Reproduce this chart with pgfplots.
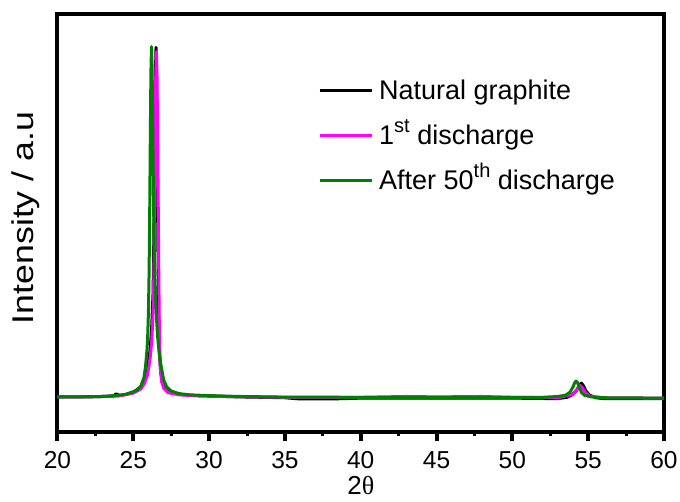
\documentclass[border=0pt]{standalone}
\usepackage{pgfplots}
\pgfplotsset{compat=1.18}
\usepackage{fontspec}
\setmainfont{Liberation Sans}
\newfontfamily\serifgr{Liberation Serif}
\definecolor{cgreen}{RGB}{0,128,0}
\definecolor{cmag}{RGB}{255,0,255}
\newcommand{\sups}[1]{\raisebox{0.42em}{\fontsize{20}{20}\selectfont #1}}
\begin{document}
\begin{tikzpicture}
\useasboundingbox (-57.5pt,-69pt) rectangle (622.5pt,432pt);
\begin{axis}[
  at={(0pt,0pt)}, anchor=south west,
  scale only axis, width=606.5pt, height=418pt,
  xmin=20, xmax=60, ymin=0, ymax=100,
  xtick={20,25,...,60}, minor x tick num=1,
  ytick=\empty,
  xtick pos=lower,
  tick align=outside,
  major tick length=9pt, minor tick length=4pt,
  every tick/.style={black, line width=4pt},
  minor tick style={line width=3pt},
  axis line style={line width=4pt},
  /pgf/number format/assume math mode=true,
  xticklabel style={font=\fontsize{24.5}{24.5}\selectfont, inner sep=0pt, anchor=north, yshift=-10pt},
  xlabel={2{\serifgr θ}},
  xlabel style={font=\fontsize{26}{26}\selectfont, inner sep=0pt, at={(axis description cs:0.5,0)}, anchor=north, yshift=-44.5pt},
  ylabel={\scalebox{1.19}[1]{Intensity / a.u}},
  every axis y label/.style={at={(axis description cs:-0.0388,0.512)}, rotate=90, anchor=base, font=\fontsize{30}{30}\selectfont, inner sep=0pt},
  legend style={at={(0.4295,0.847)}, anchor=north west, draw=none, fill=none,
    font=\fontsize{27}{30}\selectfont, inner sep=0pt, row sep=18pt, column sep=6pt,
    nodes={inner sep=0pt, text height=21pt, text depth=6pt}},
  legend cell align=left,
  legend image code/.code={\draw[#1, line width=3pt] (0pt,1pt) -- (52pt,1pt);},
  every axis plot/.append style={line width=3pt, line join=round},
]
\addplot[black] coordinates {
(20,8.4)(21,8.4)(22,8.45)(23,8.5)(23.7,8.6)(23.85,9.1)(23.95,9.0)(24.1,8.7)
(24.5,9.0)(25.0,9.5)(25.5,10.8)(25.7,12.0)(25.9,14.5)(26.0,17.0)(26.1,19.5)(26.2,24)
(26.3,33)(26.34,42)(26.38,55)(26.42,72)(26.46,86)(26.5,92.0)(26.54,84)(26.58,66)
(26.62,46)(26.66,32)(26.7,23)(26.75,17.5)(26.8,14.5)(26.9,12.0)(27.1,10.5)(27.4,9.6)
(28.0,9.0)(29,8.7)(30,8.6)(32,8.4)(35,8.2)(36,7.9)(38,7.9)(40,8.1)(45,8.1)(50,8.1)
(52.5,8.0)(53,8.0)(53.6,8.3)(53.9,8.8)(54.2,9.8)(54.4,11.0)(54.55,11.7)(54.7,11.0)
(54.85,9.8)(55.1,8.8)(55.5,8.2)(56,8.0)(58,8.0)(60,8.0)};
\addlegendentry{Natural graphite}
\addplot[cmag] coordinates {
(20,8.4)(22,8.4)(24,8.6)(25,9.3)(25.5,10.3)(25.72,11.5)(25.92,13.5)(26.02,15.5)
(26.12,18)(26.22,22)(26.32,30)(26.36,39)(26.40,52)(26.44,70)(26.48,85)(26.52,91)
(26.56,86)(26.60,72)(26.64,56)(26.68,38)(26.71,27)(26.74,20)(26.78,15.5)(26.86,12.2)
(27.0,10.5)(27.3,9.4)(28.0,8.9)(29,8.7)(31,8.5)(35,8.3)(40,8.3)(43,8.5)(45,8.4)
(48,8.5)(50,8.3)(53,8.2)(54.0,9.0)(54.3,10.3)(54.45,11.2)(54.6,10.6)(54.8,9.5)
(55.1,8.6)(56,8.2)(60,8.1)};
\addlegendentry{1\sups{st} discharge}
\addplot[cgreen] coordinates {
(20,8.4)(22,8.4)(23,8.5)(23.7,8.7)(24.5,9.0)(25.2,9.9)(25.5,11)(25.7,13)(25.8,15.5)
(25.9,19.5)(25.95,23)(26.0,29)(26.04,38)(26.08,52)(26.12,70)(26.16,86)(26.2,92.2)
(26.24,87)(26.28,74)(26.32,60)(26.36,48)(26.4,40)(26.5,29)(26.6,23)(26.7,19)
(26.8,16.5)(26.9,14.5)(27.0,12.5)(27.2,10.8)(27.5,9.8)(28.0,9.2)(28.7,8.9)(30,8.7)
(32,8.5)(35,8.35)(40,8.3)(45,8.3)(50,8.3)(52,8.3)(53,8.5)(53.5,8.8)(53.8,9.5)
(54.0,10.8)(54.1,11.7)(54.2,12.2)(54.3,11.8)(54.4,10.8)(54.55,9.5)(54.75,8.8)
(55.2,8.4)(56,8.2)(60,8.1)};
\addlegendentry{After 50\sups{th} discharge}
\end{axis}
\end{tikzpicture}
\end{document}
